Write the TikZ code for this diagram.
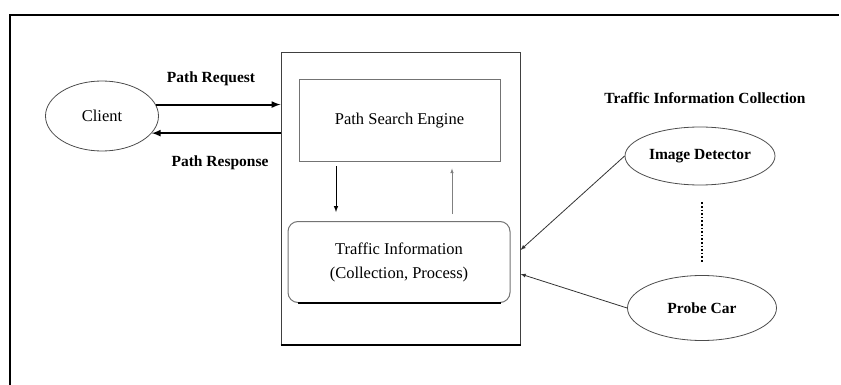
\documentclass[tikz,border=0pt]{standalone}
\usepackage{fontspec}
\setmainfont{Liberation Serif}
\usetikzlibrary{arrows,shapes.geometric}
\tikzset{
  ellnode/.style={ellipse, draw=black!70, line width=0.8pt, inner sep=0pt},
  boxnode/.style={rectangle, draw=black!55, line width=1pt, inner sep=0pt},
  regtext/.style={font=\fontsize{16.5}{24}\selectfont},
  boldtext/.style={font=\fontsize{15.5}{19}\selectfont\bfseries},
  thickarrow/.style={-latex, line width=2pt},
  thinarrow/.style={-latex, line width=0.8pt, black!80}
}
\begin{document}
\begin{tikzpicture}[x=1pt,y=-1pt]
\useasboundingbox (0,0) rectangle (841,385);
\draw[line width=1.2pt] (10,385) -- (10,15) -- (839,15);

\node[rectangle, draw=black!75, line width=1pt, minimum width=239pt, minimum height=291pt, inner sep=0pt] (server) at (400.5,198.5) {};
\draw[line width=2pt] (server.south west) -- (server.south east);
\node[boxnode, minimum width=201pt, minimum height=82pt, regtext] (engine) at (399.5,121) {Path Search Engine};
\node[boxnode, rounded corners=10pt, minimum width=222pt, minimum height=81pt, regtext, align=center] (info) at (399,262) {Traffic Information\\(Collection, Process)};
\draw[line width=1.5pt] (info.south west) ++(10,0) -- ([xshift=-10]info.south east);

\node[ellnode, minimum width=113pt, minimum height=70pt, regtext] (client) at (102,116) {Client};
\node[ellnode, minimum width=150pt, minimum height=58pt, boldtext] (imgdet) at (700,156) {Image Detector};
\node[ellnode, minimum width=149pt, minimum height=65pt, boldtext] (probe) at (702,308) {Probe Car};

\node[boldtext] (reqlabel) at (211,79) {Path Request};
\node[boldtext] (reslabel) at (220,163) {Path Response};
\node[boldtext] (ticlabel) at (705,98) {Traffic Information Collection};

\draw[thickarrow] (client.12) -- (client.12 -| server.west);
\draw[thickarrow] (client.-19 -| server.west) -- (client.-19);

\draw[-latex, line width=1pt, shorten <=4pt, shorten >=9pt] ([xshift=-63.5]engine.south) -- ([xshift=-63.5]engine.south |- info.north);
\draw[-latex, line width=0.6pt, black!50, shorten <=7pt, shorten >=6pt] ([xshift=52.5]engine.south |- info.north) -- ([xshift=52.5]engine.south);

\draw[thinarrow] (imgdet.west) -- ([yshift=-51.5]server.east);
\draw[thinarrow] (probe.west) -- ([yshift=-75.5]server.east);
\draw[line width=1.6pt, dotted, shorten <=17pt, shorten >=13pt] ([xshift=2]imgdet.south) -- ([xshift=2]imgdet.south |- probe.north);
\end{tikzpicture}
\end{document}
